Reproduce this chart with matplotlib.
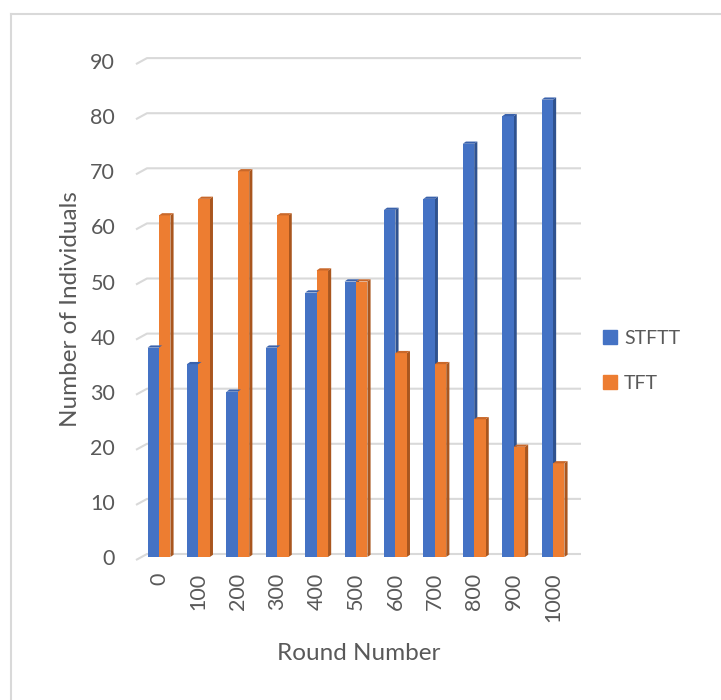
import matplotlib.pyplot as plt
from matplotlib.patches import Polygon, Patch
from matplotlib.lines import Line2D

rounds = ['0', '100', '200', '300', '400', '500', '600', '700', '800', '900', '1000']
stftt = [38, 35, 30, 38, 48, 50, 63, 65, 75, 80, 83]
tft = [62, 65, 70, 62, 52, 50, 37, 35, 25, 20, 17]

W, H = 721, 700
plt.rcParams['font.family'] = ['Lato', 'DejaVu Sans']
txt = '#595959'
grid_c = '#D9D9D9'

fig = plt.figure(figsize=(W / 100, H / 100), dpi=100)

# axes frame in pixels
left_px, right_px = 136, 581
base_px = 557
ppu_y = 5.51
ppu_x = 39.4
x0 = -(159 - left_px) / ppu_x
x1 = (right_px - 159) / ppu_x
y_lo = -3 / ppu_y
y_hi = 90.6
bot_px = base_px - y_lo * ppu_y
top_px = base_px - y_hi * ppu_y
ax = fig.add_axes([left_px / W, 1 - bot_px / H, (right_px - left_px) / W, (bot_px - top_px) / H])
ax.set_xlim(x0, x1)
ax.set_ylim(y_lo, y_hi)
for s in ax.spines.values():
    s.set_visible(False)

# back-wall gridlines with slanted floor edge
gdx = 11 / ppu_x
gdy = 3 / ppu_y
for v in range(0, 91, 10):
    ax.plot([x0, x0 + gdx, x1], [v - gdy, v + gdy, v + gdy], color=grid_c, lw=1.5,
            clip_on=False, zorder=1, solid_capstyle='butt')

# pseudo-3D bars
bw = 0.29
ddx, ddy = 0.08, 0.4
series = [(stftt, -bw, '#4472C4', '#2F528F', '#3A62AC'),
          (tft, 0.0, '#ED7D31', '#A9561E', '#C9682A')]
for vals, off, front, side, top in series:
    xs = [i + off for i in range(len(rounds))]
    ax.bar(xs, vals, width=bw, align='edge', color=front, zorder=3, linewidth=0)
    for x, h in zip(xs, vals):
        xr = x + bw
        ax.add_patch(Polygon([(xr, 0), (xr + ddx, ddy), (xr + ddx, h + ddy), (xr, h)],
                             closed=True, color=side, lw=0, zorder=2.9))
        ax.add_patch(Polygon([(x, h), (x + ddx, h + ddy), (xr + ddx, h + ddy), (xr, h)],
                             closed=True, color=top, lw=0, zorder=3.1))

ax.set_yticks(range(0, 91, 10))
ax.set_xticks(range(len(rounds)))
ax.set_xticklabels(rounds, rotation=90, va='top')
ax.tick_params(axis='y', length=0, pad=15, labelsize=15.5, labelcolor=txt)
ax.tick_params(axis='x', length=0, pad=9, labelsize=15.5, labelcolor=txt)

ax.set_xlabel('Round Number', fontsize=17.5, color=txt, labelpad=15)
ax.set_ylabel('Number of Individuals', fontsize=17.5, color=txt, labelpad=7)

handles = [Patch(color='#4472C4', label='STFTT'), Patch(color='#ED7D31', label='TFT')]
fig.legend(handles=handles, loc='upper left', bbox_to_anchor=(593 / W, 1 - 320 / H),
           frameon=False, fontsize=14, labelcolor=txt, handlelength=0.75, handleheight=0.75,
           handletextpad=0.35, labelspacing=1.45, borderpad=0)

# outer chart border
fig.add_artist(Line2D([11 / W, 11 / W], [0, 1 - 14 / H], color=grid_c, lw=1.5))
fig.add_artist(Line2D([11 / W, 1], [1 - 14 / H, 1 - 14 / H], color=grid_c, lw=1.5))

fig.savefig('out.png', dpi=100)
